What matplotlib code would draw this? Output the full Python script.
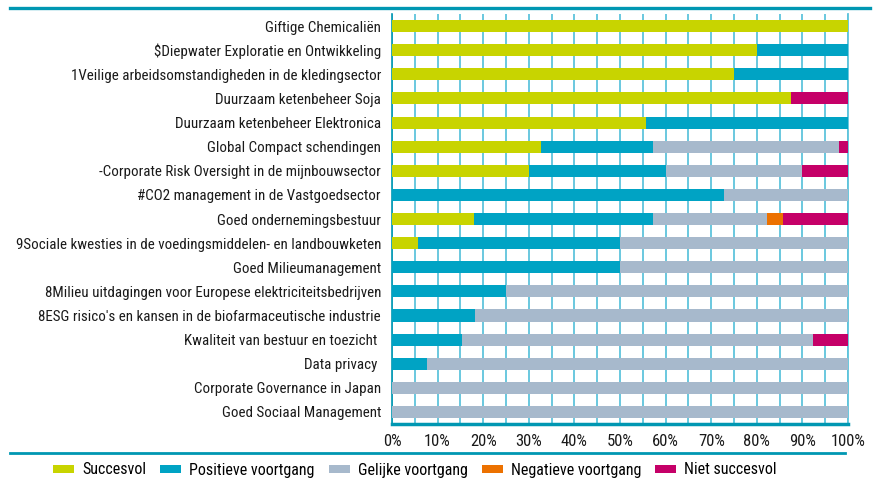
import matplotlib
matplotlib.use("Agg")
import matplotlib.pyplot as plt
from matplotlib.lines import Line2D
from matplotlib.patches import Patch
import numpy as np

plt.rcParams['font.family'] = ['Roboto Condensed', 'DejaVu Sans']

categories = [
    "Giftige Chemicaliën",
    "$Diepwater Exploratie en Ontwikkeling",
    "1Veilige arbeidsomstandigheden in de kledingsector",
    "Duurzaam ketenbeheer Soja",
    "Duurzaam ketenbeheer Elektronica",
    "Global Compact schendingen",
    "-Corporate Risk Oversight in de mijnbouwsector",
    "#CO2 management in de Vastgoedsector",
    "Goed ondernemingsbestuur",
    "9Sociale kwesties in de voedingsmiddelen- en landbouwketen",
    "Goed Milieumanagement",
    "8Milieu uitdagingen voor Europese elektriciteitsbedrijven",
    "8ESG risico's en kansen in de biofarmaceutische industrie",
    "Kwaliteit van bestuur en toezicht ",
    "Data privacy ",
    "Corporate Governance in Japan",
    "Goed Sociaal Management",
]

succesvol = [100, 80, 75, 87.5, 55.6, 32.7, 30, 0, 17.9, 5.6, 0, 0, 0, 0, 0, 0, 0]
positief  = [0, 20, 25, 0, 44.4, 24.5, 30, 72.7, 39.3, 44.4, 50, 25, 18.2, 15.4, 7.7, 0, 0]
gelijk    = [0, 0, 0, 0, 0, 40.8, 30, 27.3, 25.0, 50, 50, 75, 81.8, 76.9, 92.3, 100, 100]
negatief  = [0, 0, 0, 0, 0, 0, 0, 0, 3.6, 0, 0, 0, 0, 0, 0, 0, 0]
niet      = [0, 0, 0, 12.5, 0, 2.0, 10, 0, 14.2, 0, 0, 0, 0, 7.7, 0, 0, 0]

series = [
    ("Succesvol", succesvol, "#c8d400"),
    ("Positieve voortgang", positief, "#00a3c4"),
    ("Gelijke voortgang", gelijk, "#a7b9cc"),
    ("Negatieve voortgang", negatief, "#ec7100"),
    ("Niet succesvol", niet, "#c50068"),
]
xticks = [0, 10, 20, 30, 40, 50, 60, 70, 80, 90, 100]
xticklabels = [f"{t}%" for t in xticks]

teal = "#0097b2"
grid_c = "#5ec4dc"

fig = plt.figure(figsize=(8.75, 4.82), dpi=100)
ax = fig.add_axes([392/875, 1 - 424/482, (848-392)/875, (424-14)/482])

y = np.arange(len(categories))
left = np.zeros(len(categories))
handles = []
for name, vals, col in series:
    v = np.array(vals, dtype=float)
    ax.barh(y, v, left=left, height=0.5, color=col, edgecolor='none', zorder=3)
    left += v
    handles.append(Patch(facecolor=col, edgecolor='none', label=name))

ax.set_ylim(len(categories) - 0.5, -0.5)
ax.set_xlim(0, 100)
ax.set_yticks(y)
ax.set_yticklabels(categories, fontsize=10.8, color="#1a1a1a")
ax.set_xticks(xticks)
ax.set_xticklabels(xticklabels, fontsize=12, color="#1a1a1a")
ax.set_xticks(np.arange(0, 101, 5), minor=True)
ax.tick_params(axis='both', length=0, which='both')
ax.tick_params(axis='y', pad=8)
ax.tick_params(axis='x', pad=7)
ax.grid(axis='x', which='both', color=grid_c, linewidth=1.3, zorder=0)
ax.set_axisbelow(True)

ax.spines['top'].set_visible(False)
ax.spines['left'].set_color(teal)
ax.spines['left'].set_linewidth(1.2)
ax.spines['right'].set_color(grid_c)
ax.spines['right'].set_linewidth(1.3)
ax.spines['bottom'].set_color(teal)
ax.spines['bottom'].set_linewidth(2.5)

# decorative horizontal rules
fig.add_artist(Line2D([10/875, 870/875], [1 - 8/482, 1 - 8/482], color=teal, linewidth=2.4, transform=fig.transFigure))
fig.add_artist(Line2D([10/875, 845/875], [1 - 453/482, 1 - 453/482], color=teal, linewidth=2.0, transform=fig.transFigure))

fig.legend(handles=handles, loc='center', bbox_to_anchor=(415/875, 1 - 470/482), ncol=5,
           frameon=False, fontsize=11.5, handlelength=1.3, handleheight=0.45,
           columnspacing=0.9, handletextpad=0.5)

fig.savefig("out.png", dpi=100)
